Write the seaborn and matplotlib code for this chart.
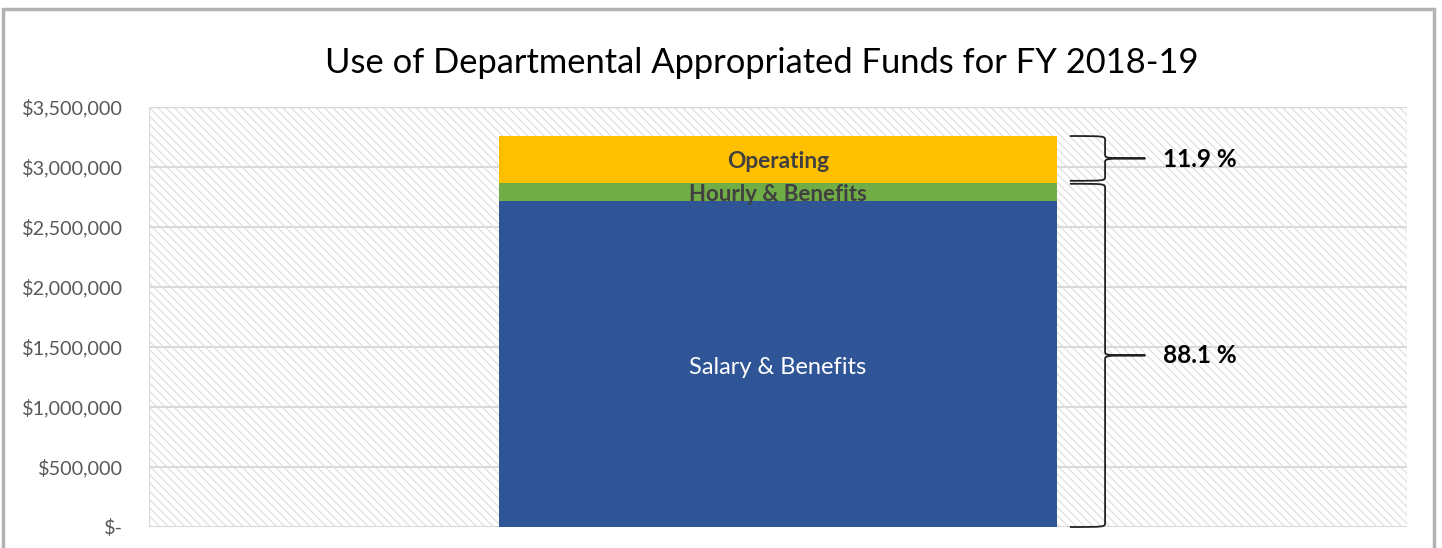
import matplotlib
matplotlib.use("Agg")
import matplotlib.pyplot as plt
import seaborn as sns
import pandas as pd
from matplotlib.path import Path
from matplotlib.patches import PathPatch, Rectangle


# values (dollars)
segments = ["Salary & Benefits", "Hourly & Benefits", "Operating"]
amounts = [2715000, 155000, 388000]
colors = ["#2F5597", "#70AD47", "#FFC000"]
pct_labels = ["11.9 %", "88.1 %"]
y_ticks = [0, 500000, 1000000, 1500000, 2000000, 2500000, 3000000, 3500000]
title = "Use of Departmental Appropriated Funds for FY 2018-19"

sns.set_style("white")
plt.rcParams["font.family"] = ["Lato", "DejaVu Sans"]
plt.rcParams["hatch.linewidth"] = 0.8


def money(v):
    if v == 0:
        return "$-"
    return "${:,.0f}".format(v)


def brace(ax, y_low, y_high, x_left, x_mid, x_tip, r):
    yc = (y_low + y_high) / 2
    verts = [
        (x_left, y_high),
        (x_mid, y_high), (x_mid, y_high), (x_mid, y_high - r),
        (x_mid, yc + r),
        (x_mid, yc), (x_mid, yc), (x_tip, yc),
        (x_mid, yc), (x_mid, yc), (x_mid, yc - r),
        (x_mid, y_low + r),
        (x_mid, y_low), (x_mid, y_low), (x_left, y_low),
    ]
    codes = ([Path.MOVETO] + [Path.CURVE4] * 3 + [Path.LINETO]
             + [Path.CURVE4] * 6 + [Path.LINETO] + [Path.CURVE4] * 3)
    ax.add_patch(PathPatch(Path(verts, codes), facecolor="none",
                           edgecolor="#222222", lw=1.3, zorder=5,
                           clip_on=False))
    return yc


fig = plt.figure(figsize=(14.42, 5.48), dpi=100)
ax = fig.add_axes([149 / 1442, 1 - 527 / 548, 1258 / 1442, 420 / 548])

# hatched plot area
ax.add_patch(Rectangle((0, 0), 1, 1, transform=ax.transAxes,
                       facecolor="white", edgecolor="#dcdcdc",
                       hatch="\\\\\\\\", lw=1, zorder=0))

# stacked bar drawn as layered cumulative totals
cumulative = []
total = 0
for a in amounts:
    total += a
    cumulative.append(total)

for name, top, color in reversed(list(zip(segments, cumulative, colors))):
    df = pd.DataFrame({"year": ["FY 2018-19"], "value": [top]})
    sns.barplot(data=df, x="year", y="value", color=color,
                saturation=1, width=0.443, linewidth=0, ax=ax, zorder=3)

ax.set_xlim(-0.5, 0.5)
ax.set_ylim(0, 3500000)
ax.set_yticks(y_ticks)
ax.set_yticklabels([money(v) for v in y_ticks])
ax.set_xticks([])
ax.set_xlabel("")
ax.set_ylabel("")
ax.tick_params(axis="y", length=0, labelsize=14.3, labelcolor="#595959", pad=18.5)
for s in ax.spines.values():
    s.set_visible(False)
ax.grid(False)
for v in y_ticks:
    ax.axhline(v, color="#d9d9d9", lw=1.5, zorder=1)

# segment labels
bottoms = [0] + cumulative[:-1]
ax.text(0, (bottoms[0] + cumulative[0]) / 2 - 25000, segments[0], ha="center",
        va="center", color="white", fontsize=17, zorder=6)
ax.text(0, cumulative[1] - 97000, segments[1], ha="center", va="center",
        color="#404040", fontsize=16, fontweight="bold", zorder=6)
ax.text(0, (bottoms[2] + cumulative[2]) / 2 - 17000, segments[2], ha="center",
        va="center", color="#404040", fontsize=16.3, fontweight="bold", zorder=6)

# braces and percentages
yc_top = brace(ax, cumulative[1] + 15000, cumulative[2], 0.232, 0.26, 0.292, 35000)
yc_low = brace(ax, 0, cumulative[1] - 10000, 0.232, 0.26, 0.292, 35000)
ax.text(0.306, yc_top - 12000, pct_labels[0], ha="left", va="center",
        fontsize=17.5, fontweight="bold", color="black")
ax.text(0.306, yc_low - 2000, pct_labels[1], ha="left", va="center",
        fontsize=17.5, fontweight="bold", color="black")

fig.text(762 / 1442, 1 - 63 / 548, title, ha="center", va="center",
         fontsize=24.8, color="black")

# outer chart border
fig.add_artist(Rectangle((3 / 1442, -0.05), 1431 / 1442, 1.05 - 9 / 548,
                         transform=fig.transFigure, facecolor="none",
                         edgecolor="#b3b3b3", lw=2.5))

fig.savefig("out.png", dpi=100)
